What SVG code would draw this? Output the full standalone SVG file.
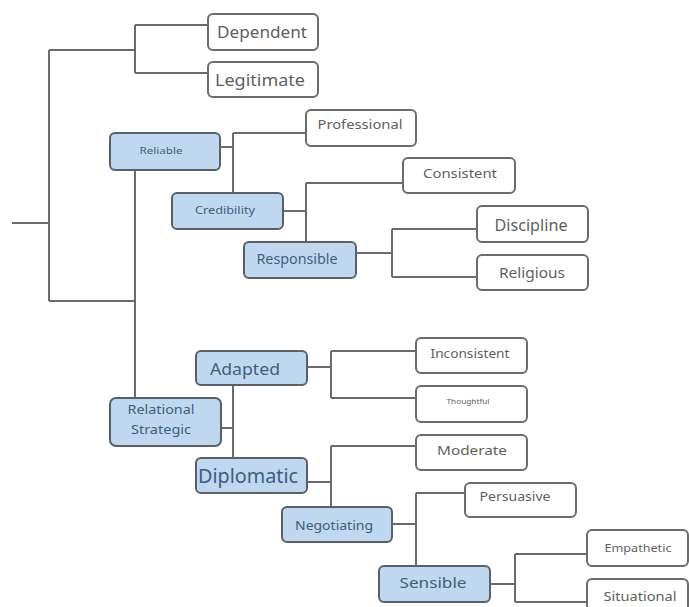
<svg xmlns="http://www.w3.org/2000/svg" width="689" height="607" viewBox="0 0 689 607">
  <style>
    .leaf rect { fill: #ffffff; stroke: #6b6b6b; stroke-width: 2; }
    .hub rect { fill: #bfd8ef; stroke: #5a6068; stroke-width: 2; }
    text { font-family: "Noto Sans", "Open Sans", "Liberation Sans", sans-serif; text-anchor: middle; dominant-baseline: central; }
    .leaf text { fill: #5f5f5f; }
    .hub text { fill: #3f5d7e; }
    .wire { fill: none; stroke: #6b6b6b; stroke-width: 2; }
  </style>
  <rect width="689" height="607" fill="#ffffff"/>

  <!-- tree connectors -->
  <g id="connectors" class="wire">
    <path d="M12 223 H49 M49 50 V301 M49 50 H135 M135 25 V73 M135 25 H208 M135 73 H208"/>
    <path d="M49 301 H135 M135 170 V398"/>
    <path d="M220 147 H233 M233 133 V193 M233 133 H306"/>
    <path d="M283 211 H306 M306 183 V242 M306 183 H403"/>
    <path d="M356 253 H392 M392 229 V277 M392 229 H477 M392 277 H477"/>
    <path d="M221 428 H233 M233 385 V458"/>
    <path d="M307 367 H331 M331 351 V398 M331 351 H416 M331 398 H416"/>
    <path d="M307 482 H331 M331 446 V507 M331 446 H416"/>
    <path d="M392 524 H416 M416 493 V566 M416 493 H465"/>
    <path d="M490 584 H515 M515 554 V602 M515 554 H587 M515 602 H587"/>
  </g>

  <g id="dependent" class="leaf"><rect x="208" y="14" width="110" height="36" rx="5"/><text x="262" y="32" font-size="16" textLength="90" lengthAdjust="spacingAndGlyphs">Dependent</text></g>
  <g id="legitimate" class="leaf"><rect x="208" y="62" width="110" height="35" rx="5"/><text x="260" y="79" font-size="17" textLength="90" lengthAdjust="spacingAndGlyphs">Legitimate</text></g>

  <g id="reliable" class="hub"><rect x="110" y="133" width="110" height="37" rx="5"/><text x="161" y="150" font-size="8" textLength="43" lengthAdjust="spacingAndGlyphs">Reliable</text></g>
  <g id="professional" class="leaf"><rect x="306" y="110" width="110" height="36" rx="5"/><text x="360" y="124" font-size="13" textLength="85" lengthAdjust="spacingAndGlyphs">Professional</text></g>
  <g id="credibility" class="hub"><rect x="172" y="193" width="111" height="36" rx="5"/><text x="225" y="210" font-size="10.5" textLength="60" lengthAdjust="spacingAndGlyphs">Credibility</text></g>
  <g id="consistent" class="leaf"><rect x="403" y="158" width="112" height="35" rx="5"/><text x="460" y="173" font-size="12.5" textLength="74" lengthAdjust="spacingAndGlyphs">Consistent</text></g>
  <g id="responsible" class="hub"><rect x="244" y="242" width="112" height="36" rx="5"/><text x="297" y="259" font-size="13.5" textLength="81" lengthAdjust="spacingAndGlyphs">Responsible</text></g>
  <g id="discipline" class="leaf"><rect x="477" y="206" width="111" height="36" rx="5"/><text x="531" y="225" font-size="16" textLength="73" lengthAdjust="spacingAndGlyphs">Discipline</text></g>
  <g id="religious" class="leaf"><rect x="477" y="255" width="111" height="35" rx="5"/><text x="532" y="272" font-size="15" textLength="66" lengthAdjust="spacingAndGlyphs">Religious</text></g>

  <g id="adapted" class="hub"><rect x="196" y="351" width="111" height="34" rx="5"/><text x="245" y="368" font-size="17" textLength="70" lengthAdjust="spacingAndGlyphs">Adapted</text></g>
  <g id="inconsistent" class="leaf"><rect x="416" y="338" width="111" height="35" rx="5"/><text x="470" y="353" font-size="12.5" textLength="79" lengthAdjust="spacingAndGlyphs">Inconsistent</text></g>
  <g id="thoughtful" class="leaf"><rect x="416" y="386" width="111" height="36" rx="5"/><text x="468" y="401" font-size="7" textLength="43" lengthAdjust="spacingAndGlyphs">Thoughtful</text></g>
  <g id="relational-strategic" class="hub"><rect x="110" y="398" width="111" height="48" rx="6"/><text x="161" y="409" font-size="13" textLength="67" lengthAdjust="spacingAndGlyphs">Relational</text><text x="161" y="429" font-size="13" textLength="60" lengthAdjust="spacingAndGlyphs">Strategic</text></g>
  <g id="moderate" class="leaf"><rect x="416" y="435" width="111" height="35" rx="5"/><text x="472" y="450" font-size="13" textLength="70" lengthAdjust="spacingAndGlyphs">Moderate</text></g>
  <g id="diplomatic" class="hub"><rect x="196" y="458" width="111" height="35" rx="5"/><text x="248" y="475" font-size="20" textLength="100" lengthAdjust="spacingAndGlyphs">Diplomatic</text></g>
  <g id="negotiating" class="hub"><rect x="282" y="507" width="110" height="35" rx="5"/><text x="334" y="525" font-size="13" textLength="78" lengthAdjust="spacingAndGlyphs">Negotiating</text></g>
  <g id="persuasive" class="leaf"><rect x="465" y="483" width="111" height="34" rx="5"/><text x="515" y="496" font-size="12.5" textLength="71" lengthAdjust="spacingAndGlyphs">Persuasive</text></g>
  <g id="sensible" class="hub"><rect x="379" y="566" width="111" height="36" rx="5"/><text x="433" y="582" font-size="15" textLength="67" lengthAdjust="spacingAndGlyphs">Sensible</text></g>
  <g id="empathetic" class="leaf"><rect x="587" y="530" width="101" height="36" rx="5"/><text x="638" y="547" font-size="11.5" textLength="67" lengthAdjust="spacingAndGlyphs">Empathetic</text></g>
  <g id="situational" class="leaf"><rect x="587" y="579" width="101" height="40" rx="5"/><text x="640" y="596" font-size="12.5" textLength="73" lengthAdjust="spacingAndGlyphs">Situational</text></g>
</svg>
